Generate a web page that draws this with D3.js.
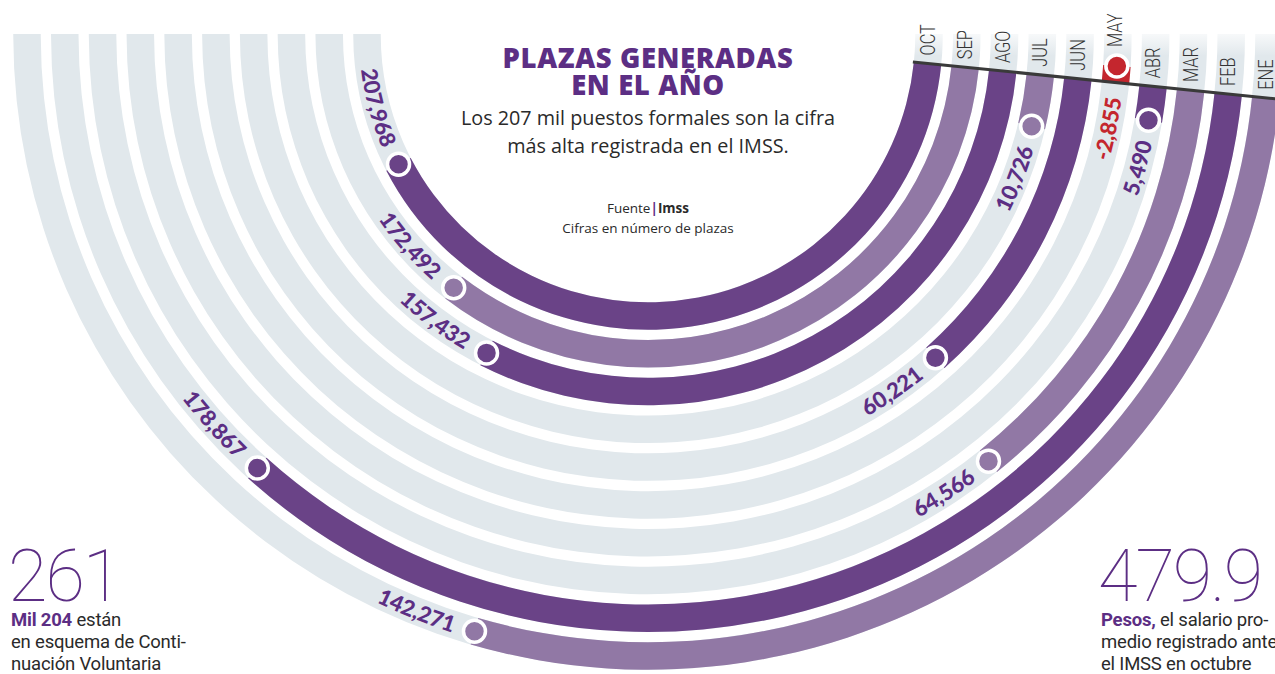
<!DOCTYPE html>
<html>
<head>
<meta charset="utf-8">
<script src="https://cdn.jsdelivr.net/npm/d3@7"></script>
<style>
  body { margin: 0; background: #fff; }
  svg { display: block; }
</style>
</head>
<body>
<div id="chart"></div>
<script>
// rings from inner to outer
const months = ["OCT", "SEP", "AGO", "JUL", "JUN", "MAY", "ABR", "MAR", "FEB", "ENE"];
const plazas = [207968, 172492, 157432, 10726, 60221, -2855, 5490, 64566, 178867, 142271];

const titleLines = ["PLAZAS GENERADAS", "EN EL AÑO"];
const subtitleLines = ["Los 207 mil puestos formales son la cifra", "más alta registrada en el IMSS."];

const width = 1275, height = 674;
const cx = 648, cy = 35;
const tilt = 5.8 * Math.PI / 180;   // baseline is rotated a bit
const band = 27.5;

const dark = "#6a4387", light = "#9178a5", red = "#c4262e", track = "#e1e8ec", purpleText = "#5c2e84";

const svg = d3.select("#chart").append("svg")
    .attr("width", width)
    .attr("height", height);

const data = months.map((m, i) => ({ month: m, value: plazas[i], i: i }));

// radius per month, angle per value
const r = d3.scalePoint().domain(months).range([281, 621]);
const ang = d3.scaleLinear().domain([0, 255000]).range([0, Math.PI]);

const theta = v => tilt + ang(v);
const pt = (rad, th) => [cx + rad * Math.cos(th), cy + rad * Math.sin(th)];
const color = d => d.value < 0 ? red : (d.i % 2 === 0 ? dark : light);
const fmt = v => d3.format(",")(v).replace("−", "-");

const arc = d3.arc()
    .innerRadius(d => r(d.month) - band / 2)
    .outerRadius(d => r(d.month) + band / 2)
    .startAngle(d => d.a0 + Math.PI / 2)
    .endAngle(d => d.a1 + Math.PI / 2);

const defs = svg.append("defs");
defs.append("clipPath").attr("id", "clip")
    .append("rect").attr("x", 0).attr("y", 34).attr("width", width).attr("height", height);

const grad = defs.append("linearGradient").attr("id", "fade")
    .attr("x1", 0).attr("y1", 0).attr("x2", 0).attr("y2", 1);
grad.append("stop").attr("offset", "0%").attr("stop-color", "#fff").attr("stop-opacity", 1);
grad.append("stop").attr("offset", "100%").attr("stop-color", "#fff").attr("stop-opacity", 0);

// gray tracks
svg.append("g")
    .attr("clip-path", "url(#clip)")
    .append("g")
    .attr("transform", `translate(${cx},${cy})`)
    .selectAll("path")
    .data(data)
    .join("path")
    .attr("d", d => arc({ month: d.month, a0: tilt - 0.14, a1: tilt + Math.PI }))
    .attr("fill", track);

// fade of the tracks above the baseline
svg.append("rect")
    .attr("x", 880).attr("y", 26)
    .attr("width", width - 880).attr("height", 30)
    .attr("fill", "url(#fade)");

// bars
svg.append("g")
    .attr("transform", `translate(${cx},${cy})`)
    .selectAll("path")
    .data(data)
    .join("path")
    .attr("d", d => arc({ month: d.month, a0: tilt, a1: theta(d.value) }))
    .attr("fill", color);

// baseline
const b0 = pt(r(months[0]) - band / 2 - 1, tilt), b1 = pt(720, tilt);
svg.append("line")
    .attr("x1", b0[0]).attr("y1", b0[1])
    .attr("x2", b1[0]).attr("y2", b1[1])
    .attr("stroke", "#3a3a3a")
    .attr("stroke-width", 3);

// dots at the end of each bar
svg.selectAll(".dot")
    .data(data)
    .join("circle")
    .attr("class", "dot")
    .attr("cx", d => pt(r(d.month), theta(d.value))[0])
    .attr("cy", d => pt(r(d.month), theta(d.value))[1])
    .attr("r", 11)
    .attr("fill", color)
    .attr("stroke", "#fff")
    .attr("stroke-width", 3.5);

// value labels along the gray track
const fs = 22;
data.forEach(d => {
    const rm = r(d.month);
    const a = d.value > 0 ? theta(d.value) + 21 / rm : tilt + 15 / rm;
    const p = d3.path();
    p.arc(cx, cy, rm + 0.36 * fs, a + 1.2, a, true);
    defs.append("path").attr("id", "lp" + d.i).attr("d", p.toString());
});

svg.selectAll(".val")
    .data(data)
    .join("text")
    .attr("class", "val")
    .attr("font-family", "Lato, 'Open Sans', sans-serif")
    .attr("font-weight", 900)
    .attr("font-size", fs)
    .attr("fill", d => d.value < 0 ? red : purpleText)
    .append("textPath")
    .attr("href", d => "#lp" + d.i)
    .attr("startOffset", "100%")
    .attr("text-anchor", "end")
    .text(d => fmt(d.value));

// month labels above the baseline
svg.selectAll(".month")
    .data(data)
    .join("text")
    .attr("class", "month")
    .attr("transform", d => {
        const p = pt(r(d.month), tilt);
        let y = p[1] - 8;
        if (d.value < 0) y = pt(r(d.month), theta(d.value))[1] - 19;
        return `translate(${p[0]},${y}) rotate(-90) scale(0.82,1)`;
    })
    .attr("dy", "0.35em")
    .attr("font-family", "Roboto, sans-serif")
    .attr("font-weight", 300)
    .attr("font-size", 20)
    .attr("fill", "#333")
    .text(d => d.month);

// title block
svg.selectAll(".title")
    .data(titleLines)
    .join("text")
    .attr("class", "title")
    .attr("x", cx)
    .attr("y", (d, i) => 68 + i * 27)
    .attr("text-anchor", "middle")
    .attr("font-family", "'Open Sans', sans-serif")
    .attr("font-weight", 800)
    .attr("font-size", 27.5)
    .attr("letter-spacing", 0.6)
    .attr("fill", purpleText)
    .text(d => d);

svg.selectAll(".sub")
    .data(subtitleLines)
    .join("text")
    .attr("class", "sub")
    .attr("x", cx)
    .attr("y", (d, i) => 125 + i * 28)
    .attr("text-anchor", "middle")
    .attr("font-family", "'Open Sans', sans-serif")
    .attr("font-size", 19.8)
    .attr("fill", "#2a2a2a")
    .text(d => d);

const src = svg.append("text")
    .attr("x", cx).attr("y", 213)
    .attr("text-anchor", "middle")
    .attr("font-family", "'Open Sans', sans-serif")
    .attr("font-size", 13.5)
    .attr("fill", "#2a2a2a");
src.append("tspan").text("Fuente");
src.append("tspan").attr("font-weight", 700).attr("fill", purpleText).text("|");
src.append("tspan").attr("font-weight", 700).text("Imss");

svg.append("text")
    .attr("x", cx).attr("y", 233)
    .attr("text-anchor", "middle")
    .attr("font-family", "'Open Sans', sans-serif")
    .attr("font-size", 13.5)
    .attr("fill", "#2a2a2a")
    .text("Cifras en número de plazas");

// side notes
function note(x, big, bold, lines) {
    svg.append("text")
        .attr("x", x - 3).attr("y", 601)
        .attr("font-family", "Roboto, sans-serif")
        .attr("font-weight", 100)
        .attr("font-size", 72)
        .attr("letter-spacing", -2)
        .attr("fill", purpleText)
        .text(big);
    const first = svg.append("text")
        .attr("x", x).attr("y", 626)
        .attr("font-family", "Roboto, sans-serif")
        .attr("font-size", 18.5)
        .attr("letter-spacing", -0.2)
        .attr("fill", "#2a2a2a");
    first.append("tspan").attr("font-weight", 700).attr("fill", purpleText).text(bold);
    first.append("tspan").text(lines[0]);
    lines.slice(1).forEach((l, i) => {
        svg.append("text")
            .attr("x", x).attr("y", 626 + (i + 1) * 22)
            .attr("font-family", "Roboto, sans-serif")
            .attr("font-size", 18.5)
            .attr("letter-spacing", -0.2)
            .attr("fill", "#2a2a2a")
            .text(l);
    });
}
note(11, "261", "Mil 204", [" están", "en esquema de Conti-", "nuación Voluntaria"]);
note(1101, "479.9", "Pesos,", [" el salario pro-", "medio registrado ante", "el IMSS en octubre"]);
</script>
</body>
</html>
